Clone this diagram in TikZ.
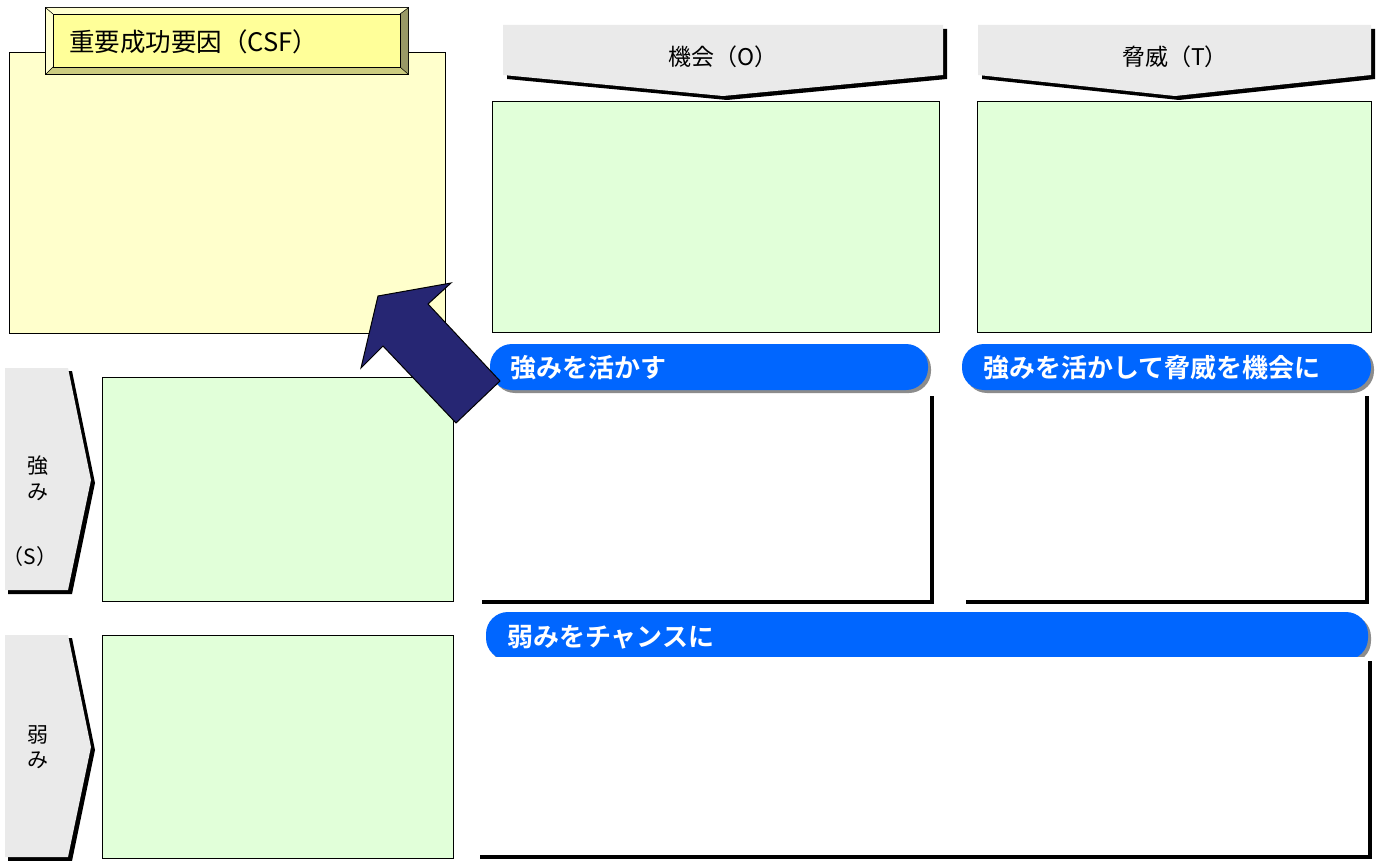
\documentclass[tikz,border=0pt]{standalone}
\usepackage{fontspec}
\newfontfamily\jp{Noto Sans CJK JP}
\newfontfamily\jpb{Noto Sans CJK JP Bold}
\definecolor{csfyellow}{HTML}{FFFFCC}
\definecolor{bevelface}{HTML}{FFFF99}
\definecolor{bevellight}{HTML}{FFFFD0}
\definecolor{beveldark}{HTML}{999966}
\definecolor{bevelmid}{HTML}{CCCC80}
\definecolor{boxgreen}{HTML}{E1FFD9}
\definecolor{headgray}{HTML}{EAEAEA}
\definecolor{pillblue}{HTML}{0066FF}
\definecolor{pillshadow}{HTML}{8C8C8C}
\definecolor{arrownavy}{HTML}{262673}
\tikzset{
  greenbox/.style={draw=black, line width=1pt, fill=boxgreen},
  yellowbox/.style={draw=black, line width=1pt, fill=csfyellow},
  headshape/.style={fill=headgray},
  shadowshape/.style={fill=black},
  pill/.style={fill=pillblue, rounded corners=22pt},
  pillshade/.style={fill=pillshadow, rounded corners=22pt},
  pilltext/.style={text=white, font=\jpb\fontsize{26}{30}\selectfont, anchor=west, inner sep=0pt},
  headtext/.style={text=black, font=\jp\fontsize{23}{27}\selectfont, inner sep=0pt},
  sidetext/.style={text=black, font=\jp\fontsize{21}{24}\selectfont, inner sep=0pt},
}
\begin{document}
\begin{tikzpicture}[x=1pt,y=-1pt]
\useasboundingbox (0,0) rectangle (1381,861);
\fill[white] (0,0) rectangle (1381,861);

% CSF area
\draw[yellowbox] (9,53) rectangle (445,333);
\fill[black] (45,7) rectangle (409,75);
\fill[bevellight] (46,8) -- (408,8) -- (400,14) -- (53,14) -- cycle;
\fill[bevellight] (46,8) -- (53,14) -- (53,67) -- (46,74) -- cycle;
\fill[beveldark] (408,8) -- (408,74) -- (400,67) -- (400,14) -- cycle;
\fill[bevelmid] (46,74) -- (408,74) -- (400,67) -- (53,67) -- cycle;
\draw[black, line width=0.8pt, fill=bevelface] (53,14) rectangle (400,67);
\draw[black, line width=0.5pt] (46,8) -- (53,14) (408,8) -- (400,14) (46,74) -- (53,67) (408,74) -- (400,67);
\node[anchor=west, inner sep=0pt, font=\jp\fontsize{25.5}{29}\selectfont] (csf) at (69,42) {重要成功要因（CSF）};

% header chevrons
\fill[shadowshape] (507,29) -- (947,29) -- (947,79) -- (727,100) -- (507,79) -- cycle;
\fill[headshape] (503,25) -- (943,25) -- (943,75) -- (723,96) -- (503,75) -- cycle;
\node[headtext] (opp) at (723,57) {機会（O）};
\fill[shadowshape] (982,29) -- (1375,29) -- (1375,79) -- (1179,100) -- (982,79) -- cycle;
\fill[headshape] (978,25) -- (1371,25) -- (1371,75) -- (1175,96) -- (978,75) -- cycle;
\node[headtext] (thr) at (1175,57) {脅威（T）};

% green boxes
\draw[greenbox] (492,102) rectangle (939,332);
\draw[greenbox] (977,102) rectangle (1371,332);
\draw[greenbox] (102,377) rectangle (453,601);
\draw[greenbox] (102,635) rectangle (453,858);

% side chevrons
\fill[shadowshape] (8,371) -- (72,371) -- (95,483) -- (72,594) -- (8,594) -- cycle;
\fill[headshape] (5,368) -- (68,368) -- (91,480) -- (68,590) -- (5,590) -- cycle;
\node[sidetext] (s1) at (38,466) {強};
\node[sidetext] (s2) at (38,492) {み};
\node[sidetext] (s3) at (30,557) {（S）};
\fill[shadowshape] (8,638) -- (72,638) -- (95,750) -- (72,861) -- (8,861) -- cycle;
\fill[headshape] (5,635) -- (68,635) -- (91,747) -- (68,857) -- (5,857) -- cycle;
\node[sidetext] (w1) at (38,735) {弱};
\node[sidetext] (w2) at (38,760) {み};

% white boxes with shadow
\fill[black] (482,396) rectangle (934,604);
\fill[white] (482,392) rectangle (930,600);
\fill[black] (966,396) rectangle (1369,604);
\fill[white] (966,392) rectangle (1365,600);

% pills
\fill[pillshade] (493,347) rectangle (931,393);
\fill[pill] (490,344) rectangle (928,390);
\node[pilltext] (p1) at (510,368) {強みを活かす};
\fill[pillshade] (965,347) rectangle (1374,393);
\fill[pill] (962,344) rectangle (1371,390);
\node[pilltext] (p2) at (983,368) {強みを活かして脅威を機会に};
\fill[pillshade] (489,615) rectangle (1371,663);
\fill[pill] (486,612) rectangle (1368,660);
\node[pilltext] (p3) at (507,637) {弱みをチャンスに};

% bottom white box
\fill[black] (480,661) rectangle (1372,859);
\fill[white] (480,657) rectangle (1368,855);

% big arrow
\draw[fill=arrownavy, draw=black, line width=1pt, line join=miter]
  (378,296) -- (451,283) -- (428,304) -- (500,381) -- (456,423) -- (383,346) -- (361,368) -- cycle;
\end{tikzpicture}
\end{document}
